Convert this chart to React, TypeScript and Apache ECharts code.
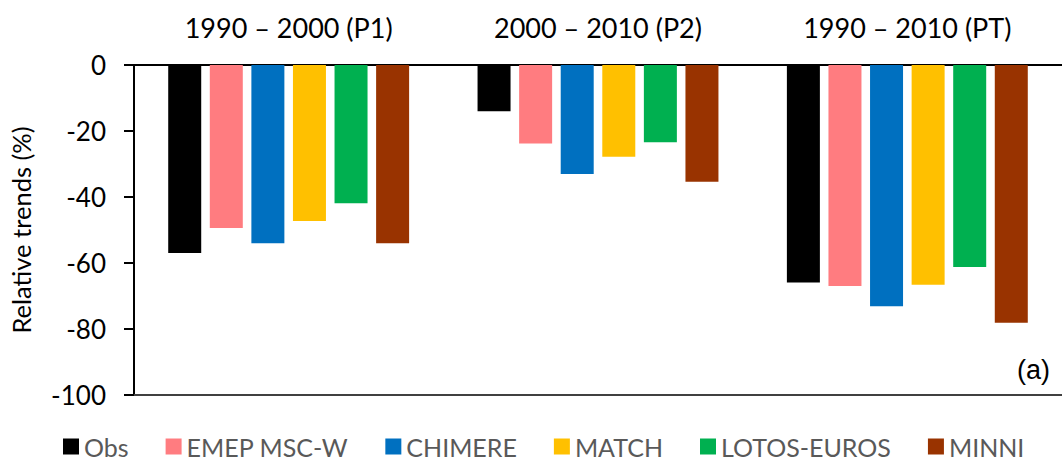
import React, { useEffect, useRef } from "react";
import * as echarts from "echarts";

const categories = ["1990 – 2000 (P1)", "2000 – 2010 (P2)", "1990 – 2010 (PT)"];
const seriesNames = ["Obs", "EMEP MSC-W", "CHIMERE", "MATCH", "LOTOS-EUROS", "MINNI"];
const obs = [-57, -14, -65.9];
const emep = [-49.4, -23.8, -67];
const chimere = [-54, -33, -73.1];
const match = [-47.3, -27.8, -66.6];
const lotos = [-41.9, -23.4, -61.2];
const minni = [-54, -35.4, -78.1];
const seriesValues = [obs, emep, chimere, match, lotos, minni];
const colors = ["#000000", "#FF7C80", "#0070C0", "#FFC000", "#00B050", "#993300"];
const yTicks = { min: -100, max: 0, interval: 20 };

export default function App() {
  const ref = useRef<HTMLDivElement>(null);
  useEffect(() => {
    document.body.style.margin = "0";
    const chart = echarts.init(ref.current!, null, { renderer: "svg" });
    const font = "Lato, 'Open Sans', sans-serif";
    chart.setOption({
      animation: false,
      grid: { left: 127, right: 0, top: 65, bottom: 70, containLabel: false },
      legend: {
        data: seriesNames,
        bottom: 1,
        left: 58,
        itemWidth: 16,
        itemHeight: 16,
        itemGap: 37,
        icon: "rect",
        textStyle: { fontFamily: font, fontSize: 25, color: "#595959" },
      },
      xAxis: [
        {
          type: "category",
          data: categories,
          position: "top",
          axisLine: { show: true, onZero: false, lineStyle: { color: "#000", width: 2 } },
          axisTick: { show: false },
          axisLabel: { margin: 24, fontFamily: font, fontSize: 27, color: "#000" },
          splitLine: { show: false },
        },
        {
          type: "category",
          data: categories,
          position: "bottom",
          axisLine: { show: true, onZero: false, lineStyle: { color: "#404040", width: 2 } },
          axisTick: { show: false },
          axisLabel: { show: false },
          splitLine: { show: false },
        },
      ],
      yAxis: {
        type: "value",
        min: yTicks.min,
        max: yTicks.max,
        interval: yTicks.interval,
        name: "Relative trends (%)",
        nameLocation: "middle",
        nameGap: 100,
        nameTextStyle: { fontFamily: font, fontSize: 25.5, color: "#000" },
        axisLine: { show: true, lineStyle: { color: "#000", width: 2 } },
        axisTick: { show: true, length: 10, lineStyle: { color: "#000", width: 2 } },
        axisLabel: { margin: 28, fontFamily: font, fontSize: 26, color: "#000" },
        splitLine: { show: false },
      },
      series: seriesNames.map((name, i) => ({
        name,
        type: "bar",
        xAxisIndex: 0,
        data: seriesValues[i],
        barWidth: 33,
        barGap: "26%",
        itemStyle: { color: colors[i] },
      })),
      graphic: [
        {
          type: "text",
          right: 12,
          top: 356,
          style: { text: "(a)", fontFamily: "'Liberation Sans', Arial, sans-serif", fontSize: 27, fill: "#000" },
        },
      ],
    });
    return () => chart.dispose();
  }, []);
  return <div ref={ref} style={{ width: 1062, height: 465 }} />;
}
